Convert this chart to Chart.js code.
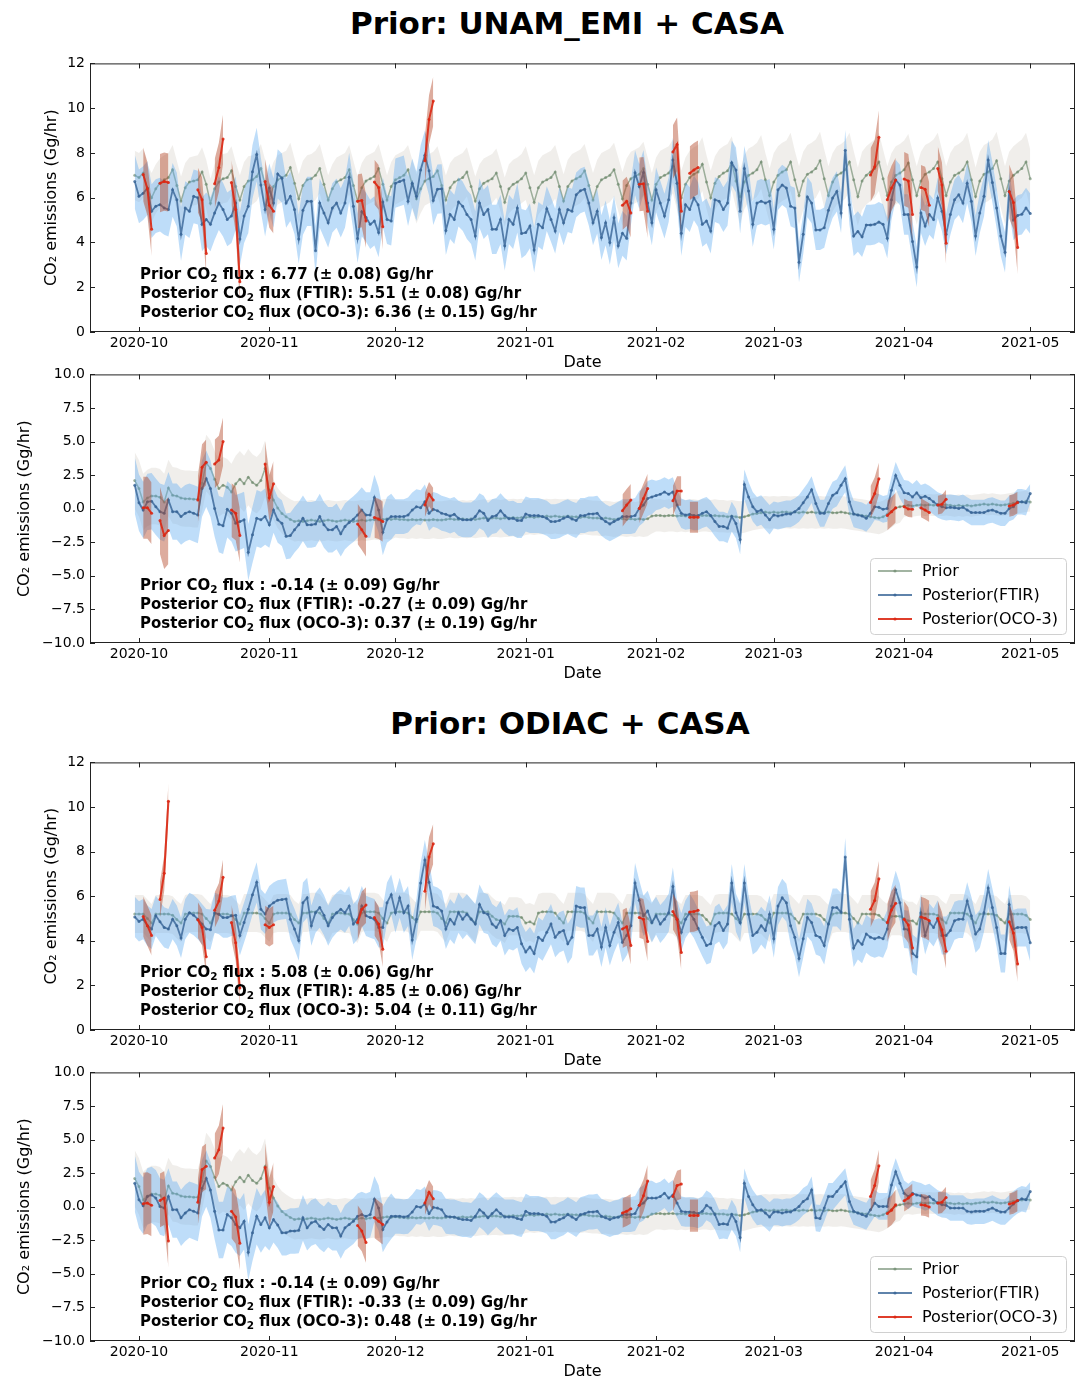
<!DOCTYPE html>
<html>
<head>
<meta charset="utf-8">
<script src="https://cdn.jsdelivr.net/npm/chart.js@4.4.1/dist/chart.umd.min.js"></script>
<style>
  body { margin: 0; width: 1085px; height: 1379px; background: #fff; position: relative; font-family: "DejaVu Sans", sans-serif; overflow: hidden; }
  .title { position: absolute; left: 0; text-align: center; font-weight: bold; font-size: 31px; line-height: 36px; color: #000; }
  canvas { position: absolute; left: 0; }
</style>
</head>
<body>
<div class="title" style="top:5px; width:1134px">Prior: UNAM_EMI + CASA</div>
<div class="title" style="top:705px; width:1140px">Prior: ODIAC + CASA</div>
<canvas id="c1" width="1085" height="322" style="top:50px"></canvas>
<canvas id="c2" width="1085" height="322" style="top:361px"></canvas>
<canvas id="c3" width="1085" height="321" style="top:749px"></canvas>
<canvas id="c4" width="1085" height="322" style="top:1059px"></canvas>
<script>
// day 0 = 2020-10-01, series start 2020-09-30 and end 2021-05-01
const START_DAY = -1;
const monthTicks = [0, 31, 61, 92, 123, 151, 182, 212];
const monthLabels = ["2020-10", "2020-11", "2020-12", "2021-01", "2021-02", "2021-03", "2021-04", "2021-05"];

// ---- UNAM_EMI anthropogenic panel ----
const prior1 = [
  7.0, 6.9, 7.1, 6.4, 6.0,
  6.4, 6.65, 6.8, 6.9, 7.25, 6.55, 5.85,
  6.45, 6.7, 6.75, 6.8, 7.15, 6.6, 5.75,
  6.4, 6.7, 6.85, 6.9, 7.2, 6.5, 5.9,
  6.5, 6.75, 6.8, 6.95, 7.3, 6.6, 5.95,
  6.5, 6.8, 6.9, 7.0, 7.35, 6.65, 5.95,
  6.55, 6.8, 6.85, 7.0, 7.3, 6.6, 5.9,
  6.4, 6.7, 6.8, 6.9, 7.25, 6.55, 5.85,
  6.45, 6.75, 6.85, 6.95, 7.3, 6.6, 5.9,
  6.5, 6.8, 6.9, 7.0, 7.25, 6.6, 5.95,
  6.4, 6.75, 6.85, 6.95, 7.2, 6.55, 5.9,
  6.45, 6.7, 6.8, 6.9, 7.15, 6.5, 5.85,
  6.4, 6.65, 6.75, 6.85, 7.1, 6.5, 5.8,
  6.4, 6.6, 6.7, 6.85, 7.1, 6.45, 5.8,
  6.45, 6.7, 6.8, 6.9, 7.15, 6.5, 5.85,
  6.5, 6.75, 6.85, 6.95, 7.2, 6.55, 5.9,
  6.5, 6.8, 6.9, 7.0, 7.25, 6.6, 5.95,
  6.55, 6.85, 6.95, 7.05, 7.3, 6.6, 5.9,
  6.6, 6.9, 7.0, 7.1, 7.4, 6.65, 6.0,
  6.6, 6.9, 7.05, 7.15, 7.5, 6.7, 6.0,
  6.65, 6.95, 7.1, 7.2, 7.55, 6.75, 6.05,
  6.7, 7.0, 7.1, 7.25, 7.6, 6.8, 6.1,
  6.7, 7.0, 7.15, 7.25, 7.6, 6.8, 6.1,
  6.75, 7.05, 7.15, 7.3, 7.65, 6.85, 6.1,
  6.7, 7.0, 7.1, 7.25, 7.6, 6.8, 6.05,
  6.75, 7.0, 7.15, 7.3, 7.6, 6.85, 6.1,
  6.7, 7.0, 7.1, 7.25, 7.55, 6.8, 6.1,
  6.75, 7.05, 7.15, 7.3, 7.6, 6.85, 6.1,
  6.7, 7.0, 7.1, 7.25, 7.6, 6.8, 6.05,
  6.75, 7.05, 7.15, 7.3, 7.65, 6.85, 6.1,
  6.75, 7.0, 7.15, 7.3, 7.6, 6.85
];
const ftir1 = [
  6.72, 6.06, 6.2, 6.43, 5.4, 5.62, 5.69, 5.54, 5.47, 6.35,
  5.91, 4.37, 5.54, 5.4, 6.06, 6.0, 4.81, 5.03, 4.81, 5.32,
  5.76, 5.47, 5.03, 5.18, 5.76, 4.15, 5.18, 5.62, 7.16, 7.93,
  6.57, 5.47, 6.43, 5.76, 7.06, 6.87, 5.76, 6.06, 5.47, 4.15,
  5.44, 5.84, 5.84, 3.63, 5.76, 5.32, 4.88, 5.54, 5.76, 5.32,
  5.76, 6.91, 5.62, 4.18, 5.37, 5.13, 4.81, 4.96, 4.44, 5.81,
  5.03, 4.96, 6.65, 6.72, 6.79, 5.84, 6.65, 6.06, 7.24, 7.9,
  7.2, 5.88, 6.38, 6.4, 4.54, 5.25, 5.03, 5.81, 5.62, 5.25,
  5.03, 4.29, 5.76, 5.25, 5.47, 4.59, 4.59, 5.03, 3.85, 5.03,
  4.81, 5.54, 4.4, 4.44, 4.74, 3.66, 4.81, 4.66, 5.51, 5.03,
  4.51, 5.47, 4.88, 5.47, 5.4, 6.13, 6.31, 6.38, 5.76, 4.88,
  5.4, 4.22, 4.88, 4.0, 5.1, 3.85, 4.41, 4.19, 5.76, 7.12,
  6.5, 7.13, 5.76, 4.88, 6.35, 5.76, 5.18, 5.91, 7.68, 6.65,
  4.41, 5.69, 5.47, 5.99, 5.69, 4.81, 4.96, 4.51, 5.91, 5.84,
  5.47, 5.76, 7.56, 7.24, 5.4, 7.31, 6.3, 4.81, 5.76, 5.84,
  5.76, 5.84, 4.59, 6.35, 6.57, 6.43, 5.62, 5.54, 3.12, 4.37,
  6.03, 5.76, 4.56, 4.56, 4.66, 5.44, 5.99, 6.28, 5.32, 8.12,
  5.69, 4.29, 4.49, 4.25, 4.78, 4.78, 4.81, 4.91, 4.81, 4.19,
  5.91, 6.79, 6.57, 5.25, 5.25, 4.04, 2.9, 5.32, 4.74, 5.25,
  5.03, 5.99, 5.4, 4.37, 5.25, 5.91, 6.13, 5.76, 6.65, 5.84,
  4.29, 5.32, 6.06, 7.68, 6.68, 5.54, 4.29, 3.56, 6.28, 5.0,
  5.21, 5.26, 5.54, 5.29
];
// band half widths per month (Oct..May)
const priorSig1 = [1.1, 1.1, 1.1, 1.2, 1.2, 1.3, 1.3, 1.3];
const ftirSig1 = [1.2, 1.1, 1.1, 1.0, 1.0, 0.9, 0.9, 0.9];

// OCO-3 overpass days (same for all panels), three days per segment
const ocoDays = [
  1, 2, 3, 5, 6, 7, 14, 15, 16, 18, 19, 20, 22, 23, 24, 30, 31, 32,
  52, 53, 54, 56, 57, 58, 68, 69, 70, 115, 116, 117, 119, 120, 121,
  127, 128, 129, 131, 132, 133, 174, 175, 176, 178, 179, 180,
  182, 183, 184, 186, 187, 188, 190, 191, 192, 207, 208, 209
];
const oco1 = [
  7.04, 6.4, 4.59, 6.65, 6.72, 6.68, 6.35, 5.91, 3.51, 6.62, 7.35, 8.62, 6.68, 5.47, 2.24, 6.72, 5.66, 5.4,
  5.84, 5.88, 4.96, 6.7, 6.46, 4.7, 7.65, 9.49, 10.32, 5.66, 5.84, 5.32, 6.6, 6.62, 5.4,
  8.04, 8.38, 5.4, 7.09, 7.24, 7.35, 7.01, 7.38, 8.7, 5.91, 6.43, 6.79,
  6.84, 6.75, 5.25, 6.46, 6.38, 5.66, 7.31, 6.57, 3.97, 6.28, 5.79, 3.78
];
const ocoSig1 = [1.2, 1.3, 1.0, 1.1, 1.0, 1.0, 1.2, 1.0, 1.1, 1.1, 1.2, 1.2, 1.2, 1.2, 1.0, 1.2, 1.0, 1.0, 1.2];

// ---- CASA biosphere prior (same in both bottom panels) ----
const priorBio = [
  2.1, 1.5, 0.5, 0.8, 0.95, 0.95, 0.85, 0.5, 1.55, 1.0,
  0.95, 0.8, 0.75, 0.75, 0.7, 0.7, 1.9, 3.4, 3.0, 2.2,
  1.5, 1.75, 1.6, 1.25, 1.85, 2.2, 1.85, 2.35, 1.95, 1.75,
  2.1, 3.0, 1.4, 0.65, 0.05, -0.35, -0.6, -0.8, -0.95, -0.9,
  -0.95, -0.9, -0.85, -0.9, -0.95, -0.9, -0.85, -0.9, -0.95, -0.9,
  -0.85, -0.9, -0.95, -0.9, -0.85, -0.9, -0.85, -0.8, -0.85, -0.8,
  -0.75, -0.8, -0.75, -0.8, -0.8, -0.85, -0.8, -0.85, -0.8, -0.85,
  -0.85, -0.8, -0.85, -0.85, -0.8, -0.75, -0.8, -0.8, -0.75, -0.8,
  -0.75, -0.8, -0.75, -0.7, -0.75, -0.7, -0.7, -0.75, -0.7, -0.7,
  -0.65, -0.7, -0.65, -0.65, -0.6, -0.65, -0.6, -0.6, -0.55, -0.6,
  -0.55, -0.6, -0.6, -0.55, -0.6, -0.6, -0.65, -0.6, -0.65, -0.7,
  -0.7, -0.75, -0.7, -0.75, -0.8, -0.75, -0.75, -0.8, -0.75, -0.8,
  -0.75, -0.8, -0.75, -0.55, -0.5, -0.5, -0.55, -0.5, -0.5, -0.55,
  -0.5, -0.55, -0.5, -0.5, -0.55, -0.5, -0.5, -0.55, -0.5, -0.55,
  -0.55, -0.6, -0.55, -0.6, -0.65, -0.6, -0.5, -0.4, -0.35, -0.3,
  -0.25, -0.3, -0.25, -0.3, -0.25, -0.25, -0.3, -0.25, -0.3, -0.25,
  -0.3, -0.25, -0.3, -0.25, -0.3, -0.25, -0.3, -0.3, -0.25, -0.3,
  -0.35, -0.4, -0.45, -0.5, -0.55, -0.6, -0.65, -0.7, -0.6, -0.4,
  -0.2, 0.05, 0.15, 0.2, 0.25, 0.2, 0.25, 0.3, 0.25, 0.3,
  0.25, 0.3, 0.25, 0.3, 0.25, 0.2, 0.25, 0.2, 0.25, 0.2,
  0.25, 0.3, 0.35, 0.3, 0.35, 0.3, 0.25, 0.3, 0.35, 0.4,
  0.45, 0.5, 0.55, 0.5
];
const priorSigBio = [2.1, 1.5, 1.4, 1.3, 1.2, 1.2, 0.8, 0.7];

const ftir2 = [
  1.74, 0.44, -0.1, 0.51, 0.56, 0.15, -0.22, -0.34, 0.64, -0.22,
  -0.22, -0.59, -0.34, -0.22, -0.34, -0.47, 1.5, 2.23, 1.5, 0.02,
  -1.15, -1.27, -0.05, -0.34, -1.08, -0.96, -0.83, -3.24, -1.94, -0.71,
  -0.83, -0.59, -1.2, -0.1, -0.83, -1.08, -2.06, -2.0, -1.57, -1.2,
  -0.71, -1.2, -1.2, -1.13, -0.59, -1.2, -1.57, -1.57, -1.32, -1.86,
  -1.32, -1.03, -0.78, -0.47, -0.1, -0.47, -0.47, 0.83, -0.1, -1.76,
  -0.83, -0.59, -0.59, -0.59, -0.59, -0.47, -0.1, 0.15, 0.07, 0.51,
  -0.34, -0.05, -0.15, -0.34, -0.42, -0.54, -0.42, -0.71, -0.83, -0.83,
  -0.83, -0.59, -0.15, -0.34, -0.88, -0.59, -0.51, -0.15, -0.51, -0.74,
  -0.71, -0.88, -0.88, -0.39, -0.51, -0.51, -0.51, -0.59, -0.71, -0.96,
  -0.96, -0.88, -0.71, -0.59, -0.76, -0.88, -0.51, -0.51, -0.39, -0.39,
  -0.34, -0.71, -0.96, -1.13, -0.96, -0.78, -0.59, -0.59, -0.59, -0.51,
  0.02, 0.27, 0.76, 0.88, 0.98, 1.08, 1.25, 1.08, 1.25, 0.27,
  -0.34, -0.47, -0.42, -0.51, -0.51, -0.34, -0.22, -0.51, -0.96, -1.32,
  -1.32, -1.45, -0.59, -1.1, -2.3, 1.81, 0.88, 0.15, -0.22, -0.1,
  -0.47, -0.83, -0.47, -0.54, -0.47, -0.39, -0.39, -0.22, 0.02, 0.44,
  0.88, 1.42, 0.39, -0.34, -0.34, 0.39, 1.0, 1.18, 1.74, 2.23,
  0.51, -0.39, -0.47, -0.54, -0.71, -0.34, 0.15, 0.1, -0.05, 0.02,
  1.37, 2.48, 1.74, 1.18, 1.13, 0.88, 1.18, 0.81, 0.93, 0.76,
  0.51, 0.27, 0.15, 0.07, 0.1, 0.07, 0.02, 0.1, -0.1, -0.29,
  -0.29, -0.29, -0.29, -0.15, -0.1, -0.22, -0.34, -0.34, 0.02, 0.15,
  0.51, 0.51, 0.44, 1.13
];
const ftirSigBio = [2.1, 1.7, 1.3, 1.3, 1.1, 1.0, 0.95, 0.7];
const oco2 = [
  0.07, 0.07, -0.34, -0.88, -1.99, -1.62, 0.64, 3.09, 3.46, 3.33, 3.63, 5.0, -0.1, -0.34, -2.0, 3.33, 0.81, 1.86,
  -1.13, -1.57, -2.06, -0.66, -0.76, -0.96, 0.27, 1.08, 0.64, -0.15, 0.27, 0.64, 0.02, 0.76, 1.5,
  0.59, 1.32, 1.32, -0.64, -0.64, -0.64, 0.47, 1.13, 2.23, -0.51, -0.22, 0.07,
  0.15, -0.02, -0.05, 0.07, -0.1, -0.29, 0.27, 0.34, 0.71, 0.2, 0.27, 0.47
];
const ocoSig2 = [2.3, 2.5, 1.7, 1.8, 2.0, 1.7, 1.5, 1.5, 0.9, 1.2, 1.1, 1.1, 1.15, 1.2, 1.1, 0.6, 0.7, 0.7, 0.8];

// ---- ODIAC anthropogenic panel ----
const prior3 = [
  5.2, 5.2, 5.2, 5.0, 4.8,
  5.2, 5.2, 5.2, 5.2, 5.15, 4.95, 4.8,
  5.2, 5.25, 5.25, 5.25, 5.2, 5.0, 4.8,
  5.2, 5.2, 5.2, 5.2, 5.15, 4.95, 4.75,
  5.25, 5.25, 5.25, 5.25, 5.2, 5.0, 4.8,
  5.2, 5.25, 5.25, 5.25, 5.2, 4.95, 4.8,
  5.25, 5.25, 5.3, 5.3, 5.25, 5.0, 4.8,
  5.2, 5.25, 5.25, 5.2, 5.2, 4.95, 4.75,
  5.25, 5.3, 5.3, 5.3, 5.25, 5.0, 4.8,
  5.25, 5.3, 5.3, 5.3, 5.25, 5.05, 4.85,
  5.3, 5.3, 5.3, 5.3, 5.25, 5.0, 4.8,
  5.3, 5.3, 5.3, 5.3, 5.25, 5.0, 4.8,
  5.3, 5.3, 5.3, 5.1, 4.95, 4.9, 4.75,
  5.1, 5.1, 5.1, 5.05, 4.8, 4.85, 4.75,
  5.25, 5.3, 5.3, 5.3, 5.25, 5.0, 4.8,
  5.3, 5.3, 5.3, 5.3, 5.25, 5.0, 4.8,
  5.3, 5.3, 5.3, 5.3, 5.25, 5.0, 4.8,
  5.25, 5.25, 5.25, 5.25, 5.2, 5.0, 4.8,
  5.2, 5.2, 5.2, 5.2, 5.15, 4.95, 4.8,
  5.2, 5.2, 5.2, 5.2, 5.15, 4.95, 4.75,
  5.2, 5.25, 5.25, 5.25, 5.2, 5.0, 4.8,
  5.2, 5.2, 5.2, 5.2, 5.15, 4.95, 4.8,
  5.25, 5.25, 5.25, 5.25, 5.2, 5.0, 4.8,
  5.2, 5.2, 5.2, 5.2, 5.15, 4.95, 4.75,
  5.2, 5.25, 5.25, 5.25, 5.2, 5.0, 4.8,
  5.2, 5.2, 5.2, 5.2, 5.15, 4.95, 4.8,
  5.1, 5.1, 5.1, 5.0, 4.9, 4.9, 4.75,
  5.2, 5.2, 5.2, 5.2, 5.15, 4.95, 4.8,
  5.25, 5.25, 5.25, 5.25, 5.2, 5.0, 4.8,
  5.2, 5.2, 5.2, 5.2, 5.15, 4.95, 4.8,
  5.2, 5.2, 5.2, 5.2, 5.15, 4.95
];
const ftir3 = [
  5.07, 4.87, 4.97, 4.68, 4.53, 5.12, 4.85, 4.6, 4.53, 4.97,
  4.68, 4.13, 4.97, 5.26, 5.15, 4.97, 4.75, 4.53, 4.5, 5.26,
  5.19, 5.04, 5.04, 5.12, 5.15, 4.24, 4.82, 5.41, 6.07, 6.62,
  5.41, 5.2, 5.56, 5.71, 5.82, 5.85, 5.88, 4.97, 4.53, 4.01,
  5.71, 5.93, 4.68, 5.26, 5.49, 5.15, 4.68, 5.04, 5.26, 5.41,
  5.26, 5.56, 4.75, 4.97, 5.56, 5.12, 5.04, 4.97, 4.6, 4.6,
  5.71, 6.07, 5.26, 5.93, 5.26, 5.56, 4.04, 4.97, 6.59, 7.62,
  6.62, 5.56, 5.49, 5.34, 4.53, 4.97, 4.75, 5.26, 4.97, 5.19,
  4.97, 4.75, 5.63, 5.26, 5.19, 4.75, 4.6, 4.9, 4.24, 4.53,
  4.46, 4.6, 3.87, 3.5, 3.72, 3.43, 4.16, 4.01, 4.38, 4.75,
  4.16, 4.38, 4.46, 3.87, 4.16, 5.56, 5.49, 5.49, 4.24, 4.24,
  4.53, 3.72, 4.6, 3.79, 4.38, 4.82, 3.94, 4.24, 4.68, 6.59,
  5.82, 5.12, 5.34, 4.82, 5.12, 4.75, 4.97, 5.26, 6.44, 4.97,
  4.38, 4.97, 5.26, 4.97, 4.56, 4.16, 3.79, 3.87, 4.68, 4.82,
  4.46, 4.75, 6.59, 5.26, 4.82, 6.59, 5.19, 4.24, 4.38, 4.68,
  4.46, 5.19, 4.09, 5.56, 5.93, 5.71, 4.68, 4.16, 3.21, 4.09,
  5.04, 4.82, 4.24, 4.16, 3.79, 4.75, 5.49, 5.49, 5.29, 7.76,
  4.97, 3.68, 4.01, 3.84, 4.31, 4.16, 4.09, 4.16, 4.09, 4.53,
  5.56, 6.29, 5.71, 4.53, 4.5, 3.43, 3.28, 5.26, 4.24, 4.82,
  4.6, 4.97, 4.24, 4.24, 4.46, 4.9, 4.97, 4.97, 5.78, 5.12,
  4.31, 4.53, 5.26, 6.37, 5.49, 4.6, 3.43, 3.43, 5.63, 4.53,
  4.6, 4.6, 4.6, 3.91
];
const priorSig3 = [0.85, 0.85, 0.85, 0.85, 0.85, 0.85, 0.85, 0.85];
const ftirSig3 = [0.9, 0.9, 0.9, 0.9, 0.85, 0.85, 0.85, 0.85];
const oco3 = [
  5.09, 4.68, 4.24, 5.85, 7.03, 10.26, 4.94, 4.6, 3.28, 5.37, 5.78, 6.85, 4.82, 3.91, 1.88, 4.72, 4.6, 4.72,
  4.82, 5.41, 5.6, 5.04, 4.75, 3.62, 6.22, 7.76, 8.35, 4.53, 4.63, 3.79, 5.04, 4.97, 3.97,
  5.31, 4.97, 3.47, 5.29, 5.31, 5.37, 5.41, 5.81, 6.78, 4.82, 5.38, 5.68,
  4.97, 4.71, 3.68, 5.07, 5.01, 4.9, 5.01, 4.49, 3.53, 4.85, 4.35, 2.96
];
const ocoSig3 = [0.9, 0.8, 0.8, 0.8, 0.8, 0.85, 0.8, 0.8, 0.9, 0.85, 0.9, 0.8, 0.9, 0.8, 0.85, 0.8, 0.9, 0.8, 0.8];

// ---- ODIAC biosphere panel ----
const ftir4 = [
  1.74, 0.51, 0.07, 0.76, 0.88, 0.64, 0.02, -0.1, 0.76, -0.22,
  -0.22, -0.83, -0.47, -0.22, -0.34, -0.47, 1.37, 2.1, 1.25, -0.34,
  -1.74, -1.74, -0.59, -0.83, -1.32, -1.57, -1.08, -3.4, -1.94, -0.71,
  -1.32, -0.83, -1.57, -0.96, -1.37, -1.94, -1.94, -1.81, -1.81, -1.76,
  -0.83, -1.57, -1.2, -1.08, -1.45, -1.69, -1.32, -1.57, -1.57, -2.18,
  -1.57, -1.32, -1.08, -0.71, -0.59, -0.71, -0.59, 0.56, -0.1, -1.69,
  -1.13, -0.71, -0.71, -0.71, -0.76, -0.71, -0.39, 0.02, -0.05, 0.2,
  -0.51, -0.05, -0.1, -0.22, -0.71, -0.76, -0.76, -0.88, -0.96, -0.96,
  -1.03, -0.71, -0.22, -0.47, -0.83, -0.51, -0.22, -0.51, -0.76, -0.76,
  -0.76, -0.88, -0.96, -0.34, -0.51, -0.51, -0.51, -0.59, -0.71, -1.13,
  -1.13, -0.96, -0.83, -0.59, -0.76, -0.96, -0.59, -0.51, -0.39, -0.39,
  -0.34, -0.71, -0.83, -0.96, -0.83, -0.78, -0.59, -0.59, -0.59, -0.51,
  0.1, 0.27, 0.64, 0.64, 0.64, 0.76, 1.0, 0.64, 0.88, 0.27,
  -0.34, -0.39, -0.39, -0.42, -0.51, -0.34, 0.1, -0.1, -0.59, -1.32,
  -1.27, -1.32, -0.59, -1.1, -2.3, 1.74, 0.76, 0.15, -0.29, -0.22,
  -0.47, -0.76, -0.39, -0.39, -0.47, -0.39, -0.39, -0.22, 0.02, 0.39,
  0.6, 1.25, -0.83, -0.88, -0.1, 0.76, 0.76, 1.13, 1.5, 1.86,
  0.39, -0.34, -0.47, -0.59, -0.71, -0.22, 0.27, 0.02, 0.02, 0.02,
  1.62, 2.6, 1.74, 1.0, 0.76, 1.0, 0.88, 0.81, 0.64, 0.76,
  0.51, 0.27, 0.15, 0.1, -0.1, -0.1, -0.1, -0.1, -0.34, -0.39,
  -0.34, -0.34, -0.34, -0.22, -0.1, -0.27, -0.39, -0.39, -0.1, 0.2,
  0.44, 0.59, 0.51, 1.13
];
const oco4 = [
  0.22, 0.27, 0.1, 0.47, 0.64, -2.55, 0.34, 2.77, 3.01, 3.63, 4.24, 5.86, -0.34, -0.76, -2.72, 2.92, 0.34, 1.5,
  -1.4, -1.81, -2.67, -0.83, -1.08, -1.32, 0.27, 1.08, 0.59, -0.47, -0.34, -0.15, 0.1, 0.81, 1.91,
  0.76, 1.57, 1.69, -0.66, -0.66, -0.66, 0.76, 1.57, 3.04, -0.51, -0.27, 0.15,
  0.44, 0.64, 0.93, 0.15, 0.1, -0.02, 0.27, 0.34, 0.69, 0.2, 0.27, 0.47
];
const ocoSig4 = [2.3, 2.0, 1.7, 1.8, 2.0, 1.8, 1.5, 1.5, 0.9, 1.1, 1.2, 1.1, 1.2, 1.2, 1.1, 0.8, 0.8, 0.8, 0.8];

const PRIOR_LINE = "rgba(100,130,100,0.6)";
const FTIR_LINE = "rgba(55,100,150,0.8)";
const OCO_LINE = "rgba(220,40,20,0.9)";

function monthOf(day) {
  let m = 0;
  monthTicks.forEach((t, i) => { if (day >= t) m = i; });
  return m;
}
function daily(vals, sig, s) {
  return vals.map((v, i) => {
    const d = START_DAY + i;
    return { x: d, y: sig ? v + s * sig[monthOf(d)] : v };
  });
}
function ocoSeries(vals, sig, s) {
  const out = [];
  ocoDays.forEach((d, i) => {
    if (i > 0 && d !== ocoDays[i - 1] + 1) out.push({ x: d - 0.5, y: null });
    out.push({ x: d, y: sig ? vals[i] + s * sig[Math.floor(i / 3)] : vals[i] });
  });
  return out;
}

function drawSub(ctx, text, x, y, size, bold) {
  const w = bold ? "bold " : "";
  const parts = text.split("₂");
  parts.forEach((p, i) => {
    ctx.font = w + size + "px 'DejaVu Sans'";
    ctx.fillText(p, x, y);
    x += ctx.measureText(p).width;
    if (i < parts.length - 1) {
      ctx.font = w + (size * 0.7) + "px 'DejaVu Sans'";
      ctx.fillText("2", x, y + size * 0.28);
      x += ctx.measureText("2").width;
    }
  });
}

const deco = {
  id: "deco",
  afterDraw(chart, args, opts) {
    const { ctx, chartArea: a, scales } = chart;
    ctx.save();
    // inward ticks on all four sides
    ctx.strokeStyle = "#222";
    ctx.lineWidth = 1;
    ctx.beginPath();
    scales.x.ticks.forEach(t => {
      const px = Math.round(scales.x.getPixelForValue(t.value)) + 0.5;
      ctx.moveTo(px, a.bottom); ctx.lineTo(px, a.bottom - 5);
      ctx.moveTo(px, a.top); ctx.lineTo(px, a.top + 5);
    });
    scales.y.ticks.forEach(t => {
      const py = Math.round(scales.y.getPixelForValue(t.value)) + 0.5;
      ctx.moveTo(a.left, py); ctx.lineTo(a.left + 5, py);
      ctx.moveTo(a.right, py); ctx.lineTo(a.right - 5, py);
    });
    ctx.stroke();
    ctx.strokeRect(a.left + 0.5, a.top + 0.5, a.right - a.left - 1, a.bottom - a.top - 1);

    // summary text
    ctx.fillStyle = "#000";
    ctx.textBaseline = "middle";
    ctx.textAlign = "left";
    opts.notes.forEach((line, i) => {
      drawSub(ctx, line, a.left + 50, a.bottom - 57 + i * 19, 15, true);
    });

    if (opts.legend) {
      const x0 = a.right - 205, y0 = a.bottom - 85, w = 196, h = 76;
      ctx.fillStyle = "rgba(255,255,255,0.8)";
      ctx.strokeStyle = "#d0d0d0";
      ctx.beginPath();
      ctx.roundRect(x0 + 0.5, y0 + 0.5, w, h, 4);
      ctx.fill();
      ctx.stroke();
      const items = [["Prior", PRIOR_LINE], ["Posterior(FTIR)", FTIR_LINE], ["Posterior(OCO-3)", OCO_LINE]];
      items.forEach(([label, col], i) => {
        const yy = y0 + 13 + i * 24;
        ctx.strokeStyle = col;
        ctx.lineWidth = 1.8;
        ctx.beginPath();
        ctx.moveTo(x0 + 8, yy); ctx.lineTo(x0 + 42, yy);
        ctx.stroke();
        ctx.fillStyle = col;
        ctx.beginPath();
        ctx.arc(x0 + 25, yy, 1.6, 0, Math.PI * 2);
        ctx.fill();
        ctx.fillStyle = "#000";
        ctx.font = "16px 'DejaVu Sans'";
        ctx.fillText(label, x0 + 52, yy + 1);
      });
    }
    ctx.restore();
  }
};

function makeChart(id, p) {
  const bandSet = (data, color, order) => ({ data, borderWidth: 0, pointRadius: 0, backgroundColor: color, fill: "+1", order, spanGaps: false });
  const loSet = (data, order) => ({ data, borderWidth: 0, pointRadius: 0, fill: false, order, spanGaps: false });
  const lineSet = (data, color, width, order) => ({
    data, borderColor: color, backgroundColor: color, borderWidth: width,
    pointRadius: 1.5, pointBorderWidth: 0, fill: false, order, spanGaps: false
  });
  const datasets = [
    bandSet(daily(p.prior, p.priorSig, 1), "rgba(205,198,190,0.3)", 9),
    loSet(daily(p.prior, p.priorSig, -1), 8),
    lineSet(daily(p.prior), PRIOR_LINE, 1.5, 7),
    bandSet(daily(p.ftir, p.ftirSig, 1), "rgba(100,175,240,0.42)", 6),
    loSet(daily(p.ftir, p.ftirSig, -1), 5),
    lineSet(daily(p.ftir), FTIR_LINE, 1.8, 4),
    bandSet(ocoSeries(p.oco, p.ocoSig, 1), "rgba(180,70,40,0.45)", 3),
    loSet(ocoSeries(p.oco, p.ocoSig, -1), 2),
    lineSet(ocoSeries(p.oco), OCO_LINE, 2, 1)
  ];
  return new Chart(document.getElementById(id), {
    type: "line",
    data: { datasets },
    plugins: [deco],
    options: {
      responsive: false,
      animation: false,
      events: [],
      layout: { padding: { top: 10, right: 10, left: 0, bottom: 0 } },
      elements: { line: { tension: 0 } },
      scales: {
        x: {
          type: "linear",
          min: -11.65,
          max: 222.65,
          afterBuildTicks: (s) => { s.ticks = monthTicks.map(v => ({ value: v })); },
          afterFit: (s) => { s.height = 40; },
          grid: { display: false, drawTicks: false },
          border: { display: false },
          ticks: {
            autoSkip: false, maxRotation: 0, padding: 3, color: "#000",
            font: { family: "DejaVu Sans", size: 14 },
            callback: (v) => monthLabels[monthTicks.indexOf(v)]
          },
          title: { display: true, text: "Date", color: "#000", font: { family: "DejaVu Sans", size: 16 }, padding: { top: 0, bottom: 0 } }
        },
        y: {
          min: p.yMin, max: p.yMax,
          afterBuildTicks: (s) => { s.ticks = p.yTicks.map(v => ({ value: v })); },
          afterFit: (s) => { s.width = 90; },
          grid: { display: false, drawTicks: false },
          border: { display: false },
          ticks: {
            padding: 5, color: "#000",
            font: { family: "DejaVu Sans", size: 14 },
            callback: p.yFmt
          },
          title: { display: true, text: "CO₂ emissions (Gg/hr)", color: "#000", font: { family: "DejaVu Sans", size: 16 }, padding: { top: p.titlePad, bottom: 0 } }
        }
      },
      plugins: {
        legend: { display: false },
        tooltip: { enabled: false },
        filler: { drawTime: "beforeDatasetDraw" },
        deco: { notes: p.notes, legend: p.legend }
      }
    }
  });
}

const anthroTicks = [0, 2, 4, 6, 8, 10, 12];
const bioTicks = [-10, -7.5, -5, -2.5, 0, 2.5, 5, 7.5, 10];
const intFmt = (v) => String(v);
const decFmt = (v) => (v < 0 ? "\u2212" : "") + Math.abs(v).toFixed(1);

makeChart("c1", {
  prior: prior1, priorSig: priorSig1, ftir: ftir1, ftirSig: ftirSig1, oco: oco1, ocoSig: ocoSig1,
  yMin: 0, yMax: 12, yTicks: anthroTicks, yFmt: intFmt, titlePad: 42.5, legend: false,
  notes: ["Prior CO₂ flux : 6.77 (± 0.08) Gg/hr", "Posterior CO₂ flux (FTIR): 5.51 (± 0.08) Gg/hr", "Posterior CO₂ flux (OCO-3): 6.36 (± 0.15) Gg/hr"]
});
makeChart("c2", {
  prior: priorBio, priorSig: priorSigBio, ftir: ftir2, ftirSig: ftirSigBio, oco: oco2, ocoSig: ocoSig2,
  yMin: -10, yMax: 10, yTicks: bioTicks, yFmt: decFmt, titlePad: 15.5, legend: true,
  notes: ["Prior CO₂ flux : -0.14 (± 0.09) Gg/hr", "Posterior CO₂ flux (FTIR): -0.27 (± 0.09) Gg/hr", "Posterior CO₂ flux (OCO-3): 0.37 (± 0.19) Gg/hr"]
});
makeChart("c3", {
  prior: prior3, priorSig: priorSig3, ftir: ftir3, ftirSig: ftirSig3, oco: oco3, ocoSig: ocoSig3,
  yMin: 0, yMax: 12, yTicks: anthroTicks, yFmt: intFmt, titlePad: 42.5, legend: false,
  notes: ["Prior CO₂ flux : 5.08 (± 0.06) Gg/hr", "Posterior CO₂ flux (FTIR): 4.85 (± 0.06) Gg/hr", "Posterior CO₂ flux (OCO-3): 5.04 (± 0.11) Gg/hr"]
});
makeChart("c4", {
  prior: priorBio, priorSig: priorSigBio, ftir: ftir4, ftirSig: ftirSigBio, oco: oco4, ocoSig: ocoSig4,
  yMin: -10, yMax: 10, yTicks: bioTicks, yFmt: decFmt, titlePad: 15.5, legend: true,
  notes: ["Prior CO₂ flux : -0.14 (± 0.09) Gg/hr", "Posterior CO₂ flux (FTIR): -0.33 (± 0.09) Gg/hr", "Posterior CO₂ flux (OCO-3): 0.48 (± 0.19) Gg/hr"]
});
</script>
</body>
</html>
